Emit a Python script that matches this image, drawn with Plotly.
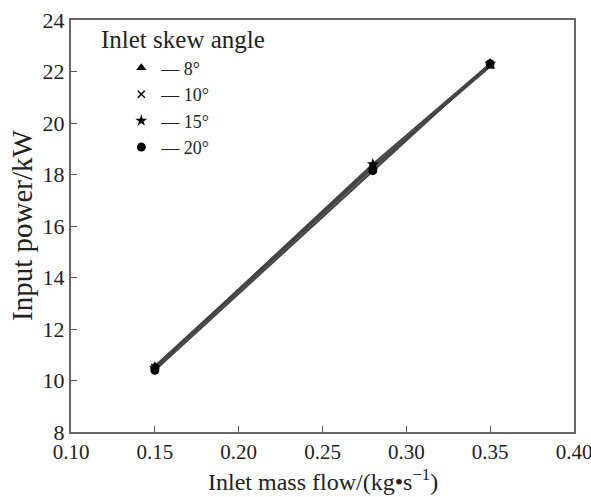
import plotly.graph_objects as go

mass_flow = [0.15, 0.28, 0.35]
angles = ["8°", "10°", "15°", "20°"]
power_8 = [10.55, 18.3, 22.2]
power_10 = [10.5, 18.25, 22.25]
power_15 = [10.5, 18.4, 22.3]
power_20 = [10.4, 18.15, 22.3]
symbols = ["triangle-up", "x-thin", "star", "circle"]
series = [power_8, power_10, power_15, power_20]

fig = go.Figure()
for name, ys in zip(angles, series):
    fig.add_trace(go.Scatter(
        x=mass_flow, y=ys, mode="lines", name=name, showlegend=False,
        line=dict(color="#444444", width=2.2),
    ))
for name, ys, sym in zip(angles, series, symbols):
    thin = sym == "x-thin"
    fig.add_trace(go.Scatter(
        x=mass_flow, y=ys, mode="markers", name="— " + name,
        marker=dict(symbol=sym, size=9 if not thin else 7, color="black",
                    line=dict(color="black", width=1.5 if thin else 0)),
    ))

font = "Liberation Serif, Times New Roman, serif"
W, H = 591, 497
ML, MR, MT, MB = 71, 17, 20, 65
PW, PH = W - ML - MR, H - MT - MB

fig.update_layout(
    width=W, height=H,
    margin=dict(l=ML, r=MR, t=MT, b=MB),
    paper_bgcolor="white", plot_bgcolor="white",
    font=dict(family=font, size=22, color="#222"),
    showlegend=True,
    legend=dict(
        x=0.1, y=0.928, xanchor="left", yanchor="top",
        bgcolor="rgba(0,0,0,0)", font=dict(size=18),
        tracegroupgap=0, itemwidth=30,
    ),
    annotations=[
        dict(text="Inlet skew angle", xref="paper", yref="paper",
             x=0.055, y=(H - MB - 40) / PH, xanchor="left", yanchor="middle",
             showarrow=False, font=dict(size=25)),
        dict(text="Inlet mass flow/(kg•s<sup>−1</sup>)", xref="paper", yref="paper",
             x=0.5, y=-(480 - (H - MB)) / PH, xanchor="center", yanchor="middle",
             showarrow=False, font=dict(size=24)),
        dict(text="Input power/kW", xref="paper", yref="paper", textangle=-90,
             x=-(ML - 22) / PW, y=0.5, xanchor="center", yanchor="middle",
             showarrow=False, font=dict(size=29)),
    ],
    xaxis=dict(
        range=[0.10, 0.40], tick0=0.10, dtick=0.05, tickformat=".2f",
        ticks="inside", ticklen=6, tickcolor="#555",
        showline=True, linecolor="#666", linewidth=2, mirror=True,
        showgrid=False, zeroline=False, tickfont=dict(size=21),
        ticklabeloverflow="allow", automargin=False,
    ),
    yaxis=dict(
        range=[8, 24], dtick=2,
        ticks="inside", ticklen=6, tickcolor="#555",
        showline=True, linecolor="#666", linewidth=2, mirror=True,
        showgrid=False, zeroline=False, tickfont=dict(size=22),
        automargin=False,
    ),
)

fig.write_html("out.html")
